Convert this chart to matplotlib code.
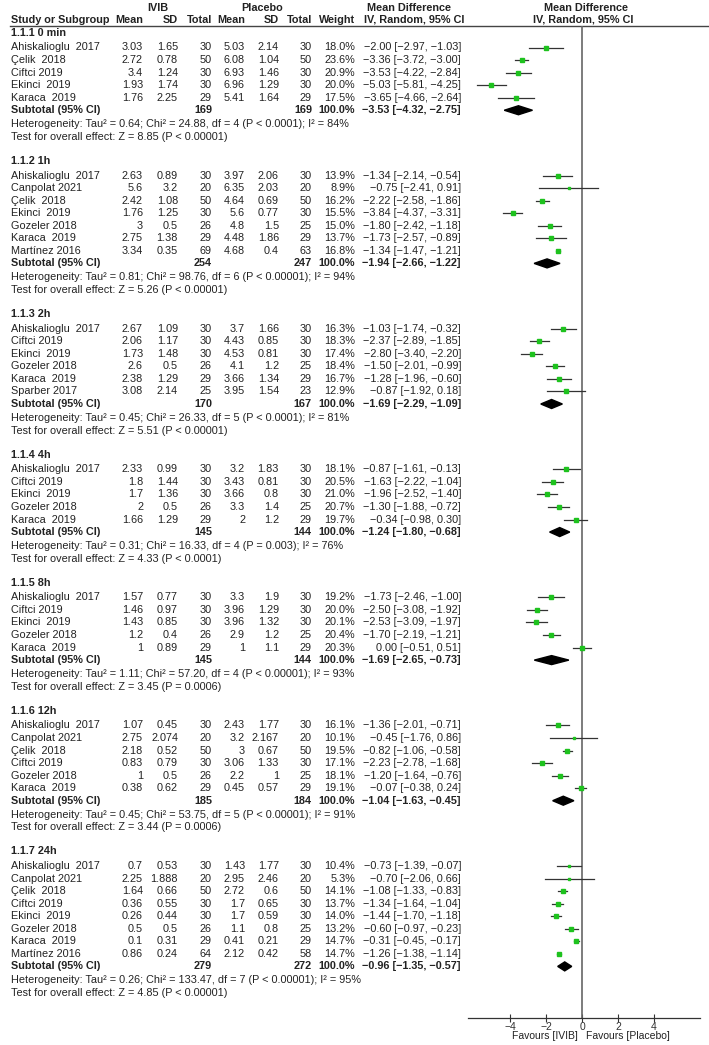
import matplotlib
matplotlib.use("Agg")
import matplotlib.pyplot as plt

# --- data ---
groups = ["1.1.1 0 min", "1.1.2 1h", "1.1.3 2h", "1.1.4 4h", "1.1.5 8h", "1.1.6 12h", "1.1.7 24h"]

studies = [
    ["Ahiskalioglu  2017", "Çelik  2018", "Ciftci 2019", "Ekinci  2019", "Karaca  2019"],
    ["Ahiskalioglu  2017", "Canpolat 2021", "Çelik  2018", "Ekinci  2019", "Gozeler 2018", "Karaca  2019", "Martínez 2016"],
    ["Ahiskalioglu  2017", "Ciftci 2019", "Ekinci  2019", "Gozeler 2018", "Karaca  2019", "Sparber 2017"],
    ["Ahiskalioglu  2017", "Ciftci 2019", "Ekinci  2019", "Gozeler 2018", "Karaca  2019"],
    ["Ahiskalioglu  2017", "Ciftci 2019", "Ekinci  2019", "Gozeler 2018", "Karaca  2019"],
    ["Ahiskalioglu  2017", "Canpolat 2021", "Çelik  2018", "Ciftci 2019", "Gozeler 2018", "Karaca  2019"],
    ["Ahiskalioglu  2017", "Canpolat 2021", "Çelik  2018", "Ciftci 2019", "Ekinci  2019", "Gozeler 2018", "Karaca  2019", "Martínez 2016"],
]

ivib_mean = [
    [3.03, 2.72, 3.4, 1.93, 1.76],
    [2.63, 5.6, 2.42, 1.76, 3, 2.75, 3.34],
    [2.67, 2.06, 1.73, 2.6, 2.38, 3.08],
    [2.33, 1.8, 1.7, 2, 1.66],
    [1.57, 1.46, 1.43, 1.2, 1],
    [1.07, 2.75, 2.18, 0.83, 1, 0.38],
    [0.7, 2.25, 1.64, 0.36, 0.26, 0.5, 0.1, 0.86],
]
ivib_sd = [
    [1.65, 0.78, 1.24, 1.74, 2.25],
    [0.89, 3.2, 1.08, 1.25, 0.5, 1.38, 0.35],
    [1.09, 1.17, 1.48, 0.5, 1.29, 2.14],
    [0.99, 1.44, 1.36, 0.5, 1.29],
    [0.77, 0.97, 0.85, 0.4, 0.89],
    [0.45, 2.074, 0.52, 0.79, 0.5, 0.62],
    [0.53, 1.888, 0.66, 0.55, 0.44, 0.5, 0.31, 0.24],
]
ivib_n = [
    [30, 50, 30, 30, 29],
    [30, 20, 50, 30, 26, 29, 69],
    [30, 30, 30, 26, 29, 25],
    [30, 30, 30, 26, 29],
    [30, 30, 30, 26, 29],
    [30, 20, 50, 30, 26, 29],
    [30, 20, 50, 30, 30, 26, 29, 64],
]
pla_mean = [
    [5.03, 6.08, 6.93, 6.96, 5.41],
    [3.97, 6.35, 4.64, 5.6, 4.8, 4.48, 4.68],
    [3.7, 4.43, 4.53, 4.1, 3.66, 3.95],
    [3.2, 3.43, 3.66, 3.3, 2],
    [3.3, 3.96, 3.96, 2.9, 1],
    [2.43, 3.2, 3, 3.06, 2.2, 0.45],
    [1.43, 2.95, 2.72, 1.7, 1.7, 1.1, 0.41, 2.12],
]
pla_sd = [
    [2.14, 1.04, 1.46, 1.29, 1.64],
    [2.06, 2.03, 0.69, 0.77, 1.5, 1.86, 0.4],
    [1.66, 0.85, 0.81, 1.2, 1.34, 1.54],
    [1.83, 0.81, 0.8, 1.4, 1.2],
    [1.9, 1.29, 1.32, 1.2, 1.1],
    [1.77, 2.167, 0.67, 1.33, 1, 0.57],
    [1.77, 2.46, 0.6, 0.65, 0.59, 0.8, 0.21, 0.42],
]
pla_n = [
    [30, 50, 30, 30, 29],
    [30, 20, 50, 30, 25, 29, 63],
    [30, 30, 30, 25, 29, 23],
    [30, 30, 30, 25, 29],
    [30, 30, 30, 25, 29],
    [30, 20, 50, 30, 25, 29],
    [30, 20, 50, 30, 30, 25, 29, 58],
]
weight = [
    [18.0, 23.6, 20.9, 20.0, 17.5],
    [13.9, 8.9, 16.2, 15.5, 15.0, 13.7, 16.8],
    [16.3, 18.3, 17.4, 18.4, 16.7, 12.9],
    [18.1, 20.5, 21.0, 20.7, 19.7],
    [19.2, 20.0, 20.1, 20.4, 20.3],
    [16.1, 10.1, 19.5, 17.1, 18.1, 19.1],
    [10.4, 5.3, 14.1, 13.7, 14.0, 13.2, 14.7, 14.7],
]
md = [
    [-2.00, -3.36, -3.53, -5.03, -3.65],
    [-1.34, -0.75, -2.22, -3.84, -1.80, -1.73, -1.34],
    [-1.03, -2.37, -2.80, -1.50, -1.28, -0.87],
    [-0.87, -1.63, -1.96, -1.30, -0.34],
    [-1.73, -2.50, -2.53, -1.70, 0.00],
    [-1.36, -0.45, -0.82, -2.23, -1.20, -0.07],
    [-0.73, -0.70, -1.08, -1.34, -1.44, -0.60, -0.31, -1.26],
]
ci_lo = [
    [-2.97, -3.72, -4.22, -5.81, -4.66],
    [-2.14, -2.41, -2.58, -4.37, -2.42, -2.57, -1.47],
    [-1.74, -2.89, -3.40, -2.01, -1.96, -1.92],
    [-1.61, -2.22, -2.52, -1.88, -0.98],
    [-2.46, -3.08, -3.09, -2.19, -0.51],
    [-2.01, -1.76, -1.06, -2.78, -1.64, -0.38],
    [-1.39, -2.06, -1.33, -1.64, -1.70, -0.97, -0.45, -1.38],
]
ci_hi = [
    [-1.03, -3.00, -2.84, -4.25, -2.64],
    [-0.54, 0.91, -1.86, -3.31, -1.18, -0.89, -1.21],
    [-0.32, -1.85, -2.20, -0.99, -0.60, 0.18],
    [-0.13, -1.04, -1.40, -0.72, 0.30],
    [-1.00, -1.92, -1.97, -1.21, 0.51],
    [-0.71, 0.86, -0.58, -1.68, -0.76, 0.24],
    [-0.07, 0.66, -0.83, -1.04, -1.18, -0.23, -0.17, -1.14],
]

sub_n1 = [169, 254, 170, 145, 145, 185, 279]
sub_n2 = [169, 247, 167, 144, 144, 184, 272]
sub_md = [-3.53, -1.94, -1.69, -1.24, -1.69, -1.04, -0.96]
sub_lo = [-4.32, -2.66, -2.29, -1.80, -2.65, -1.63, -1.35]
sub_hi = [-2.75, -1.22, -1.09, -0.68, -0.73, -0.45, -0.57]

tau2 = ["0.64", "0.81", "0.45", "0.31", "1.11", "0.45", "0.26"]
chi2 = ["24.88", "98.76", "26.33", "16.33", "57.20", "53.75", "133.47"]
dfs = [4, 6, 5, 4, 4, 5, 7]
het_p = ["P < 0.0001", "P < 0.00001", "P < 0.0001", "P = 0.003", "P < 0.00001", "P < 0.00001", "P < 0.00001"]
i2 = [84, 94, 81, 76, 93, 91, 95]
z_val = ["8.85", "5.26", "5.51", "4.33", "3.45", "3.44", "4.85"]
z_p = ["P < 0.00001", "P < 0.00001", "P < 0.00001", "P < 0.0001", "P = 0.0006", "P = 0.0006", "P < 0.00001"]

x_ticks = [-4, -2, 0, 2, 4]

W, H = 709, 1045
plt.rcParams['font.family'] = ['Liberation Sans', 'DejaVu Sans']
FS = 7.8
TXT = '#222222'
GREEN = '#1ec21e'

fig = plt.figure(figsize=(W / 100, H / 100), dpi=100)
tx = fig.add_axes([0, 0, 1, 1])
tx.set_xlim(0, W)
tx.set_ylim(H, 0)
tx.axis('off')

# forest panel shares the same pixel rows as the table
AX_L, AX_R, AX_TOP, AX_BOT = 468, 700, 25.5, 1018
ZERO, PXU = 582, 18.0
fx = fig.add_axes([AX_L / W, 1 - AX_BOT / H, (AX_R - AX_L) / W, (AX_BOT - AX_TOP) / H])
fx.set_xlim((AX_L - ZERO) / PXU, (AX_R - ZERO) / PXU)
fx.set_ylim(AX_BOT, AX_TOP)
fx.patch.set_alpha(0)
for s in ['top', 'left', 'right']:
    fx.spines[s].set_visible(False)
fx.spines['bottom'].set_color('#333333')
fx.spines['bottom'].set_linewidth(0.9)
fx.set_yticks([])
fx.set_xticks(x_ticks)
fx.set_xticklabels([str(t).replace('-', '−') for t in x_ticks], fontsize=FS - 0.3, color=TXT)
fx.tick_params(axis='x', direction='inout', length=6, width=0.8, pad=0, colors='#333333')
fx.axvline(0, color='#666666', lw=1.2)


def fmt(v):
    return '{:g}'.format(v)


def ci_text(m, lo, hi):
    return '{:.2f} [{:.2f}, {:.2f}]'.format(m, lo, hi).replace('-', '−')


def t(x, y, s, ha='left', bold=False, size=FS):
    tx.text(x, y, s, ha=ha, va='center', fontsize=size, color=TXT,
            fontweight='bold' if bold else 'normal')


# header
col_r = [143, 178, 212, 245, 279, 312, 355]
t(158, 8, 'IVIB', ha='center', bold=True)
t(262, 8, 'Placebo', ha='center', bold=True)
t(409, 8, 'Mean Difference', ha='center', bold=True)
t(414, 20, 'IV, Random, 95% CI', ha='center', bold=True)
t(586, 8, 'Mean Difference', ha='center', bold=True)
t(583, 20, 'IV, Random, 95% CI', ha='center', bold=True)
t(11, 20, 'Study or Subgroup', bold=True)
for x, lab in zip(col_r, ['Mean', 'SD', 'Total', 'Mean', 'SD', 'Total', 'Weight']):
    t(x, 20, lab, ha='right', bold=True)
tx.plot([10, W], [25.5, 25.5], color='#444444', lw=1.0)

y = 33.0
for g in range(len(groups)):
    t(11, y, groups[g], bold=True)
    n = len(studies[g])
    for i in range(n):
        yy = y + 14.5 + 12.55 * i
        t(11, yy, studies[g][i])
        vals = [fmt(ivib_mean[g][i]), fmt(ivib_sd[g][i]), str(ivib_n[g][i]),
                fmt(pla_mean[g][i]), fmt(pla_sd[g][i]), str(pla_n[g][i]),
                '{:.1f}%'.format(weight[g][i])]
        for x, v in zip(col_r, vals):
            t(x, yy, v, ha='right')
        t(461, yy, ci_text(md[g][i], ci_lo[g][i], ci_hi[g][i]), ha='right')
        fx.plot([ci_lo[g][i], ci_hi[g][i]], [yy, yy], color='#333333', lw=0.9, zorder=2)
        fx.plot(md[g][i], yy, marker='s', color=GREEN, mec=GREEN,
                markersize=0.65 * weight[g][i] ** 0.5, zorder=3)
    ys = y + 14.5 + 12.55 * n
    t(11, ys, 'Subtotal (95% CI)', bold=True)
    t(col_r[2], ys, str(sub_n1[g]), ha='right', bold=True)
    t(col_r[5], ys, str(sub_n2[g]), ha='right', bold=True)
    t(col_r[6], ys, '100.0%', ha='right', bold=True)
    t(461, ys, ci_text(sub_md[g], sub_lo[g], sub_hi[g]), ha='right', bold=True)
    fx.fill([sub_lo[g], sub_md[g], sub_hi[g], sub_md[g]],
            [ys, ys - 4.5, ys, ys + 4.5], color='black', zorder=3)
    yh = ys + 14
    t(11, yh, 'Heterogeneity: Tau² = {}; Chi² = {}, df = {} ({}); I² = {}%'.format(
        tau2[g], chi2[g], dfs[g], het_p[g], i2[g]))
    yt = yh + 12.5
    t(11, yt, 'Test for overall effect: Z = {} ({})'.format(z_val[g], z_p[g]))
    y = yt + 24.3

t(578, 1036, 'Favours [IVIB]', ha='right', size=FS - 0.3)
t(586, 1036, 'Favours [Placebo]', size=FS - 0.3)

fig.savefig('out.png', dpi=100)
